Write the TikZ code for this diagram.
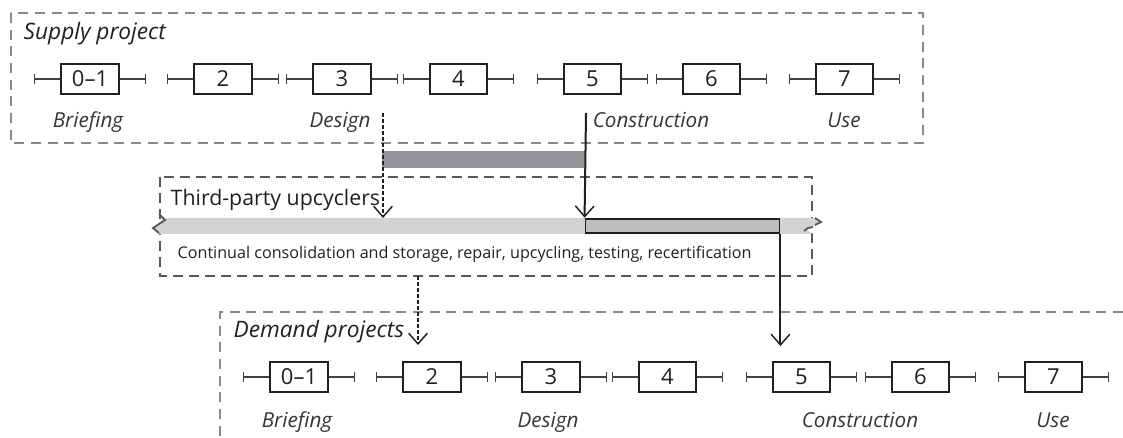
\documentclass[tikz,border=0pt]{standalone}
\usepackage{fontspec}
\setmainfont{Open Sans}
\usetikzlibrary{positioning, arrows.meta}

\definecolor{ink}{HTML}{231F20}
\definecolor{framegray}{HTML}{8A8A8A}
\definecolor{boxgray}{HTML}{5A5A5A}
\definecolor{stockgray}{HTML}{D1D3D4}
\definecolor{leadgray}{HTML}{939598}
\definecolor{usegray}{HTML}{BCBEC0}

\begin{document}
\begin{tikzpicture}[x=0.75pt,y=-0.75pt,>={Straight Barb[length=8pt,width=14pt,line width=1.1pt]},
  stage/.style={draw=ink,line width=1.5pt,minimum width=43pt,minimum height=22pt,
    inner sep=0pt,text=ink,font=\fontsize{16.5}{18}\selectfont},
  whisker/.style={draw=ink!85,line width=0.8pt,-{Bar[width=8pt,line width=0.8pt]}},
  phase/.style={anchor=base,text=ink!90,font=\fontsize{15.5}{18}\selectfont\itshape},
  title/.style={anchor=base west,text=ink,font=\fontsize{17}{20}\selectfont\itshape},
  frame/.style={draw=framegray,line width=0.9pt,dash pattern=on 7.5pt off 5pt},
  upframe/.style={draw=boxgray,line width=1.4pt,dash pattern=on 7.5pt off 4.5pt},
  feed/.style={->,draw=ink,line width=0.8pt,dash pattern=on 3pt off 1.5pt},
  reuse/.style={->,draw=ink,line width=1.5pt}]
  \useasboundingbox (0,0) rectangle (1123,438);

  % supply project
  \draw[frame] (11,13) rectangle (923,143);
  \node[title] (suptitle) at (19,40) {Supply project};
  \foreach \i/\lab/\x in {0/0--1/90,2/2/223,3/3/342,4/4/458.5,5/5/592.5,6/6/711.5,7/7/844.5}{
    \node[stage] (s\i) at (\x,79) {\lab};
    \draw[whisker] (s\i.west) -- ++(-26,0);
    \draw[whisker] (s\i.east) -- ++(26,0);
  }
  \node[phase] (sbrief) at (88,128) {Briefing};
  \node[phase] (sdesign) at (340,128) {Design};
  \node[phase] (sconstr) at (651,128) {Construction};
  \node[phase] (suse) at (844,128) {Use};

  % lead time bar
  \node[fill=leadgray,minimum width=152pt,minimum height=12.75pt,inner sep=0pt] (lead) at (483.5,159.5) {};

  % third-party upcyclers
  \draw[upframe] (160,177) rectangle (812,276);
  \node[anchor=base west,text=ink,font=\fontsize{16}{19}\selectfont] (uptitle) at (166,205) {Third-party upcyclers};
  \fill[stockgray] (166,218) -- (817,218) -- (821,222) -- (807,229) -- (812,234)
    -- (158,234) -- (153,228) -- (165,221) -- cycle;
  \coordinate (stock) at (486,218);
  \draw[boxgray,line width=1.4pt] (159,214) -- (165,220) -- (153,228) -- (159,233);
  \draw[boxgray,line width=1.4pt] (815,218) -- (821,222) -- (815,225);
  \draw[boxgray,line width=1.4pt] (804,231) -- (808,228) -- (813,227);
  \node[fill=usegray,draw=ink,line width=1.4pt,minimum width=145.5pt,minimum height=11pt,inner sep=0pt] (inuse) at (682.5,226) {};
  \node[anchor=base west,text=ink,font=\fontsize{12.1}{14}\selectfont] (uptext) at (173,258)
    {Continual consolidation and storage, repair, upcycling, testing, recertification};

  % demand projects
  \draw[frame] (1123,312) -- (220,312) -- (220,438);
  \node[title] (demtitle) at (229,337) {Demand projects};
  \foreach \i/\lab/\x in {0/0--1/299,2/2/432,3/3/551,4/4/667.5,5/5/801.5,6/6/920.5,7/7/1053.5}{
    \node[stage] (d\i) at (\x,377) {\lab};
    \draw[whisker] (d\i.west) -- ++(-26,0);
    \draw[whisker] (d\i.east) -- ++(26,0);
  }
  \node[phase] (dbrief) at (297,427) {Briefing};
  \node[phase] (ddesign) at (548,427) {Design};
  \node[phase] (dconstr) at (860,427) {Construction};
  \node[phase] (duse) at (1053,427) {Use};

  % flows between projects
  \coordinate (desout) at (383,113);
  \coordinate (conout) at (586,113);
  \coordinate (upout) at (418,276);
  \coordinate (demin) at (418,345);
  \coordinate (conin) at (inuse.south east |- 0,346);
  \draw[feed] (desout) -- (desout |- stock);
  \draw[reuse] (conout) -- (inuse.north west);
  \draw[feed] (upout) -- (demin);
  \draw[reuse] (inuse.south east) -- (conin);
\end{tikzpicture}
\end{document}
